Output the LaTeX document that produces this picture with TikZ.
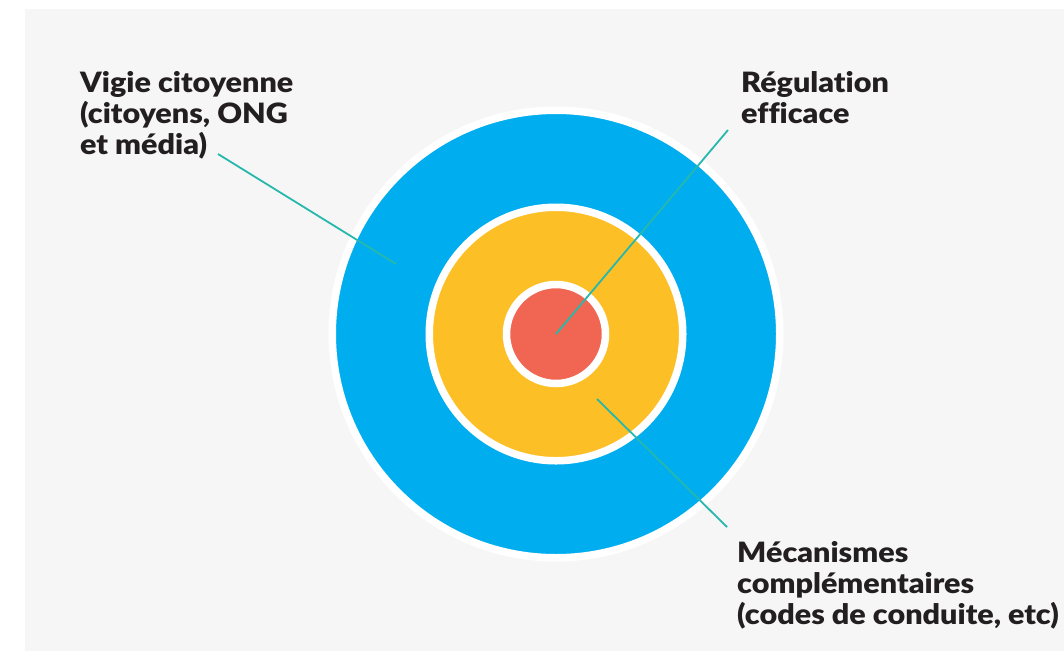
\documentclass[tikz,border=0pt]{standalone}
\usepackage{fontspec}
\setmainfont{Lato}[BoldFont={Lato Black}, BoldFeatures={FakeStretch=1.09}, Ligatures={NoCommon}]
\definecolor{bgc}{HTML}{F6F6F6}
\definecolor{bluec}{HTML}{00AEEF}
\definecolor{yelc}{HTML}{FDBF26}
\definecolor{redc}{HTML}{F16652}
\definecolor{tealc}{HTML}{26B8AC}
\definecolor{txtc}{HTML}{231F20}
\tikzset{
  ring/.style={circle, inner sep=0pt, draw=white, line width=7.5pt},
  lbl/.style={anchor=north west, align=left, inner sep=0pt, text=txtc,
     font=\fontsize{28}{31}\selectfont\bfseries},
  lead/.style={draw=tealc, line width=1.8pt}
}
\begin{document}
\begin{tikzpicture}[x=1pt,y=-1pt]
\useasboundingbox (0,0) rectangle (1064,651);
\fill[white] (0,0) rectangle (1064,651);
\fill[bgc] (25,9) rectangle (1064,651);
\coordinate (c) at (556,334);
\node[ring, fill=bluec, minimum size=447.5pt] (outer) at (c) {};
\node[ring, fill=yelc, minimum size=253.5pt] (mid) at (c) {};
\node[ring, fill=redc, minimum size=99pt] (inner) at (c) {};
% labels
\node[lbl] (l1) at (80,71) {Vigie citoyenne\\(citoyens, ONG\\et média)};
\node[lbl] (l2) at (741,71) {Régulation\\efficace};
\node[lbl] (l3) at (737,541) {Mécanismes\\complémentaires\\(codes de conduite, etc)};
% leader endpoints
\coordinate (a1) at (218,154);
\coordinate (b1) at (396,264);
\coordinate (a2) at (728,130);
\coordinate (a3) at (597,399);
\coordinate (b3) at (727,527);
\draw[lead] (a1) -- (b1);
\draw[lead] (c) -- (a2);
\draw[lead] (a3) -- (b3);
\end{tikzpicture}
\end{document}
